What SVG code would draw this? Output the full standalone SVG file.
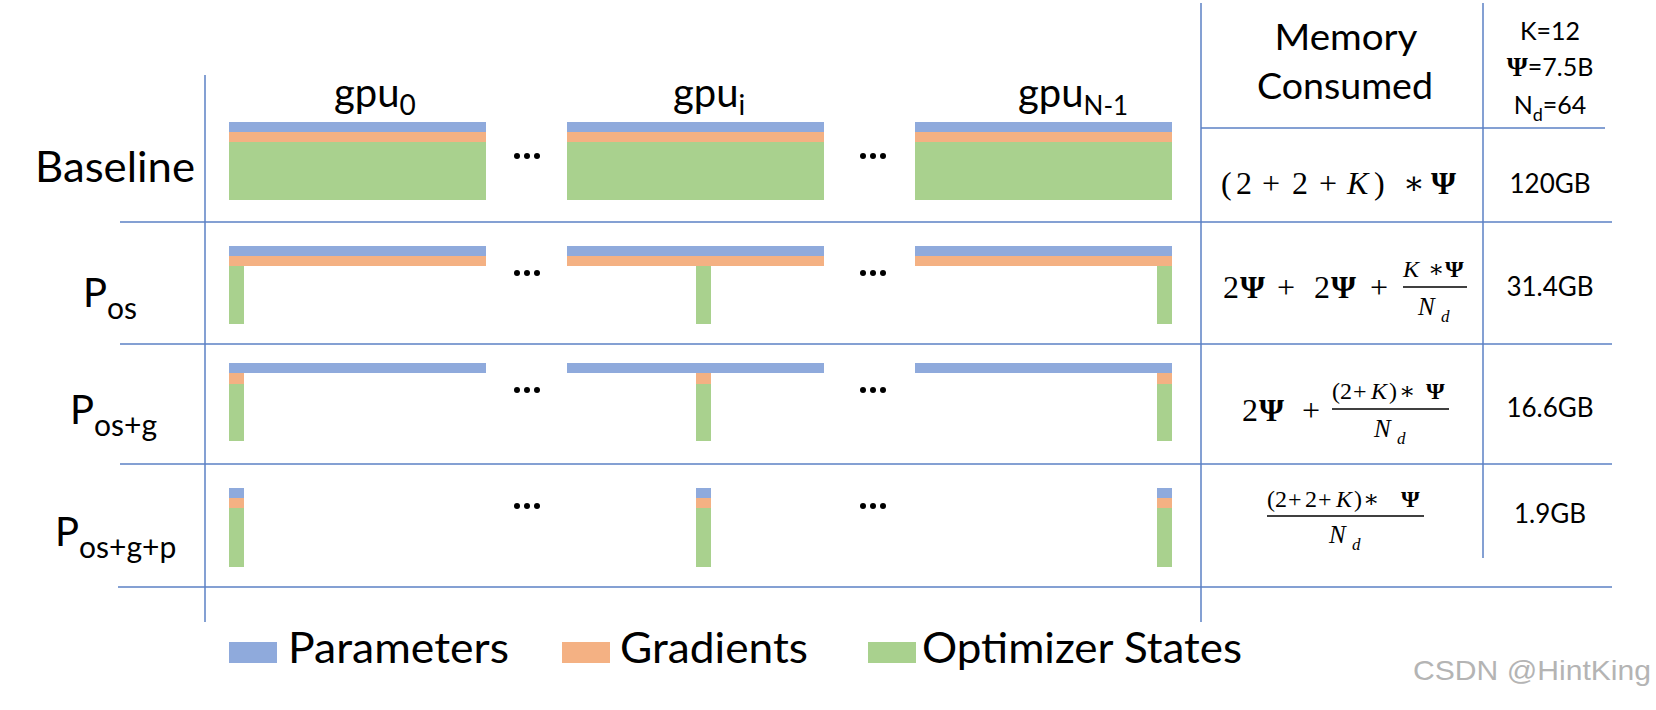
<svg xmlns="http://www.w3.org/2000/svg" width="1656" height="710" viewBox="0 0 1656 710">
<style>
.lbl{font-family:Lato,'Open Sans','Liberation Sans',sans-serif;fill:#000}
.math{font-family:'Liberation Serif','DejaVu Serif',serif;fill:#000}
.it{font-style:italic}
.bd{font-weight:bold}
.grid line{stroke:#5b80c4;stroke-width:1.5}
.fr{stroke:#000;stroke-width:1.6}
.p{fill:#8faadc}.g{fill:#f4b183}.o{fill:#a9d18e}
.dot{fill:#000}
.mid{text-anchor:middle}
</style>
<rect width="1656" height="710" fill="#fff"/>

<g id="grid" class="grid">
<line x1="205" y1="75" x2="205" y2="622"/>
<line x1="1201" y1="3" x2="1201" y2="622"/>
<line x1="1483" y1="3" x2="1483" y2="558"/>
<line x1="1201" y1="128" x2="1605" y2="128"/>
<line x1="120" y1="222" x2="1612" y2="222"/>
<line x1="120" y1="344" x2="1612" y2="344"/>
<line x1="120" y1="464" x2="1612" y2="464"/>
<line x1="118" y1="587" x2="1612" y2="587"/>
</g>

<g id="headers">
<text class="lbl" x="334" y="107" font-size="40">gpu<tspan font-size="28" dy="8">0</tspan></text>
<text class="lbl" x="673" y="107" font-size="40">gpu<tspan font-size="28" dy="8">i</tspan></text>
<text class="lbl" x="1018" y="107" font-size="40">gpu<tspan font-size="26" dy="8">N-1</tspan></text>
</g>

<g id="label-baseline"><text class="lbl" x="35" y="182" font-size="42" textLength="160" lengthAdjust="spacingAndGlyphs">Baseline</text></g>
<g id="label-pos"><text class="lbl" x="83" y="307" font-size="40">P<tspan font-size="30" dy="12">os</tspan></text></g>
<g id="label-posg"><text class="lbl" x="70" y="424" font-size="40">P<tspan font-size="30" dy="12">os+g</tspan></text></g>
<g id="label-posgp"><text class="lbl" x="55" y="546" font-size="40">P<tspan font-size="30" dy="12">os+g+p</tspan></text></g>

<g id="row-baseline">
<rect class="p" x="229" y="122" width="257" height="10"/><rect class="g" x="229" y="132" width="257" height="10"/><rect class="o" x="229" y="142" width="257" height="58"/>
<rect class="p" x="567" y="122" width="257" height="10"/><rect class="g" x="567" y="132" width="257" height="10"/><rect class="o" x="567" y="142" width="257" height="58"/>
<rect class="p" x="915" y="122" width="257" height="10"/><rect class="g" x="915" y="132" width="257" height="10"/><rect class="o" x="915" y="142" width="257" height="58"/>
<circle class="dot" cx="517" cy="156" r="3"/><circle class="dot" cx="527" cy="156" r="3"/><circle class="dot" cx="537" cy="156" r="3"/>
<circle class="dot" cx="863" cy="156" r="3"/><circle class="dot" cx="873" cy="156" r="3"/><circle class="dot" cx="883" cy="156" r="3"/>
</g>

<g id="row-pos">
<rect class="p" x="229" y="246" width="257" height="10"/><rect class="g" x="229" y="256" width="257" height="10"/><rect class="o" x="229" y="266" width="15" height="58"/>
<rect class="p" x="567" y="246" width="257" height="10"/><rect class="g" x="567" y="256" width="257" height="10"/><rect class="o" x="696" y="266" width="15" height="58"/>
<rect class="p" x="915" y="246" width="257" height="10"/><rect class="g" x="915" y="256" width="257" height="10"/><rect class="o" x="1157" y="266" width="15" height="58"/>
<circle class="dot" cx="517" cy="273" r="3"/><circle class="dot" cx="527" cy="273" r="3"/><circle class="dot" cx="537" cy="273" r="3"/>
<circle class="dot" cx="863" cy="273" r="3"/><circle class="dot" cx="873" cy="273" r="3"/><circle class="dot" cx="883" cy="273" r="3"/>
</g>

<g id="row-posg">
<rect class="p" x="229" y="363" width="257" height="10"/><rect class="g" x="229" y="373" width="15" height="11"/><rect class="o" x="229" y="384" width="15" height="57"/>
<rect class="p" x="567" y="363" width="257" height="10"/><rect class="g" x="696" y="373" width="15" height="11"/><rect class="o" x="696" y="384" width="15" height="57"/>
<rect class="p" x="915" y="363" width="257" height="10"/><rect class="g" x="1157" y="373" width="15" height="11"/><rect class="o" x="1157" y="384" width="15" height="57"/>
<circle class="dot" cx="517" cy="390" r="3"/><circle class="dot" cx="527" cy="390" r="3"/><circle class="dot" cx="537" cy="390" r="3"/>
<circle class="dot" cx="863" cy="390" r="3"/><circle class="dot" cx="873" cy="390" r="3"/><circle class="dot" cx="883" cy="390" r="3"/>
</g>

<g id="row-posgp">
<rect class="p" x="229" y="488" width="15" height="10"/><rect class="g" x="229" y="498" width="15" height="10"/><rect class="o" x="229" y="508" width="15" height="59"/>
<rect class="p" x="696" y="488" width="15" height="10"/><rect class="g" x="696" y="498" width="15" height="10"/><rect class="o" x="696" y="508" width="15" height="59"/>
<rect class="p" x="1157" y="488" width="15" height="10"/><rect class="g" x="1157" y="498" width="15" height="10"/><rect class="o" x="1157" y="508" width="15" height="59"/>
<circle class="dot" cx="517" cy="506" r="3"/><circle class="dot" cx="527" cy="506" r="3"/><circle class="dot" cx="537" cy="506" r="3"/>
<circle class="dot" cx="863" cy="506" r="3"/><circle class="dot" cx="873" cy="506" r="3"/><circle class="dot" cx="883" cy="506" r="3"/>
</g>

<g id="memory-header">
<text class="lbl mid" x="1346" y="50" font-size="37" textLength="143" lengthAdjust="spacingAndGlyphs">Memory</text>
<text class="lbl mid" x="1345" y="99" font-size="37" textLength="176" lengthAdjust="spacingAndGlyphs">Consumed</text>
</g>

<g id="params">
<text class="lbl mid" x="1550" y="40" font-size="25">K=12</text>
<text class="lbl mid" x="1550" y="76" font-size="25"><tspan class="math bd" font-size="27">Ψ</tspan>=7.5B</text>
<text class="lbl mid" x="1550" y="114" font-size="25">N<tspan font-size="18" dy="7">d</tspan><tspan dy="-7">=64</tspan></text>
</g>

<g id="formula-baseline">
<text class="math" y="194" font-size="32"><tspan x="1221">(</tspan><tspan x="1236">2</tspan><tspan x="1262">+</tspan><tspan x="1292">2</tspan><tspan x="1319">+</tspan><tspan x="1347" class="it">K</tspan><tspan x="1374">)</tspan><tspan x="1403">∗</tspan><tspan x="1431" class="bd">Ψ</tspan></text>
</g>

<g id="formula-pos">
<text class="math" y="298" font-size="32"><tspan x="1223">2</tspan><tspan x="1240" class="bd">Ψ</tspan><tspan x="1277">+</tspan><tspan x="1314">2</tspan><tspan x="1331" class="bd">Ψ</tspan><tspan x="1370">+</tspan></text>
<text class="math" y="277" font-size="24"><tspan x="1403" class="it">K</tspan><tspan x="1428">∗</tspan><tspan x="1445" class="bd">Ψ</tspan></text>
<line class="fr" x1="1403" y1="287" x2="1467" y2="287"/>
<text class="math it" y="315" font-size="25"><tspan x="1418">N</tspan><tspan x="1441" y="322" font-size="17">d</tspan></text>
</g>

<g id="formula-posg">
<text class="math" y="421" font-size="32"><tspan x="1242">2</tspan><tspan x="1259" class="bd">Ψ</tspan><tspan x="1302">+</tspan></text>
<text class="math" y="399" font-size="24"><tspan x="1332">(</tspan><tspan x="1340">2</tspan><tspan x="1353">+</tspan><tspan x="1371" class="it">K</tspan><tspan x="1389">)</tspan><tspan x="1399">∗</tspan><tspan x="1426" class="bd">Ψ</tspan></text>
<line class="fr" x1="1332" y1="409" x2="1449" y2="409"/>
<text class="math it" y="437" font-size="25"><tspan x="1374">N</tspan><tspan x="1397" y="444" font-size="17">d</tspan></text>
</g>

<g id="formula-posgp">
<text class="math" y="507" font-size="24"><tspan x="1267">(</tspan><tspan x="1275">2</tspan><tspan x="1288">+</tspan><tspan x="1305">2</tspan><tspan x="1318">+</tspan><tspan x="1336" class="it">K</tspan><tspan x="1354">)</tspan><tspan x="1363">∗</tspan><tspan x="1401" class="bd">Ψ</tspan></text>
<line class="fr" x1="1267" y1="516" x2="1424" y2="516"/>
<text class="math it" y="543" font-size="25"><tspan x="1329">N</tspan><tspan x="1352" y="550" font-size="17">d</tspan></text>
</g>

<g id="values">
<text class="lbl mid" x="1550" y="193" font-size="26">120GB</text>
<text class="lbl mid" x="1550" y="296" font-size="26">31.4GB</text>
<text class="lbl mid" x="1550" y="417" font-size="26">16.6GB</text>
<text class="lbl mid" x="1550" y="523" font-size="26">1.9GB</text>
</g>

<g id="legend">
<rect class="p" x="229" y="642" width="48" height="21"/>
<text class="lbl" x="288" y="663" font-size="42" textLength="221" lengthAdjust="spacingAndGlyphs">Parameters</text>
<rect class="g" x="562" y="642" width="48" height="21"/>
<text class="lbl" x="620" y="663" font-size="42" textLength="188" lengthAdjust="spacingAndGlyphs">Gradients</text>
<rect class="o" x="868" y="642" width="48" height="21"/>
<text class="lbl" x="922" y="663" font-size="42" textLength="320" lengthAdjust="spacingAndGlyphs">Optimizer States</text>
</g>

<g id="watermark">
<text x="1413" y="680" font-family="'Liberation Sans',Arial,sans-serif" font-size="28" fill="#b4b4b4" textLength="238" lengthAdjust="spacingAndGlyphs">CSDN @HintKing</text>
</g>
</svg>
